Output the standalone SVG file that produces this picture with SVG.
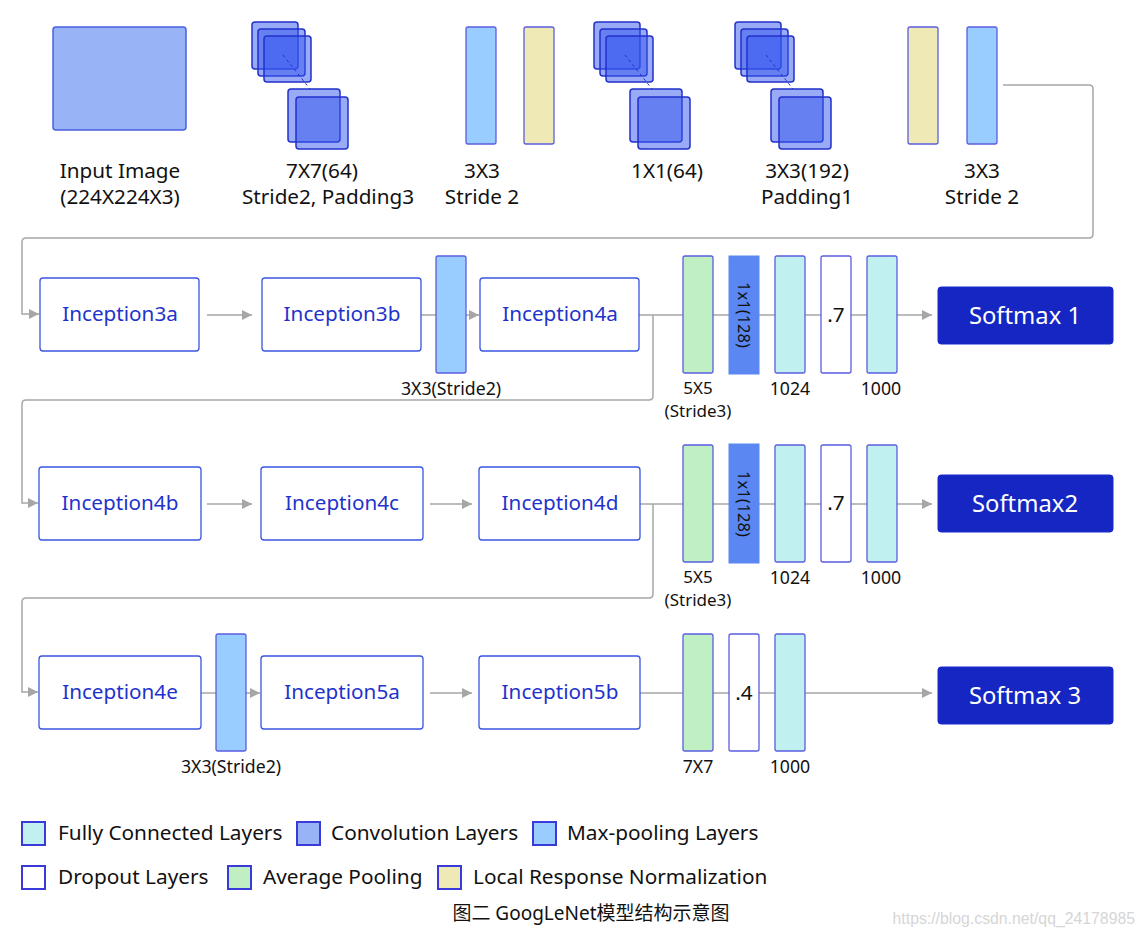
<svg xmlns="http://www.w3.org/2000/svg" xmlns:xlink="http://www.w3.org/1999/xlink" width="1144" height="937" viewBox="0 0 1144 937">
<style>
text{font-family:"Noto Sans","Open Sans","Liberation Sans",sans-serif;}
.lbl{font-size:20.7px;fill:#111;text-anchor:middle;}
.sm{font-size:17.7px;fill:#111;text-anchor:middle;}
.sm2{font-size:17px;fill:#111;text-anchor:middle;}
.rot{font-size:16.5px;fill:#111;text-anchor:middle;}
.leg{font-size:20.8px;fill:#111;}
.box{fill:#fff;stroke:#3a55e0;stroke-width:1.3;}
.itxt{font-size:20.7px;fill:#1f33cc;text-anchor:middle;}
.sbox{fill:#1526c2;stroke:#1a2ad0;stroke-width:1;}
.stxt{font-size:23.8px;fill:#fff;text-anchor:middle;}
.conn{stroke:#a6a6a6;stroke-width:1.5;fill:none;}
.pl{stroke:#5a5ee0;stroke-width:1.3;}
.mp{fill:#99ccff;}
.lrn{fill:#efe9b6;}
.avg{fill:#c1efc4;}
.fc{fill:#c0f0ef;}
.dr{fill:#fff;}
.cv{fill:#5b87f2;stroke:#5b87f2;}
.sq{fill:#3355ee;fill-opacity:0.5;stroke:#2230cc;stroke-width:1.5;}
.lg{stroke:#3a3ad8;stroke-width:2;}
</style>
<defs>
<marker id="ah" viewBox="0 0 10 10" refX="10" refY="5" markerWidth="10" markerHeight="10" markerUnits="userSpaceOnUse" orient="auto">
<path d="M0,0 L10,5 L0,10 z" fill="#a6a6a6"/>
</marker>
<g id="stack">
<rect class="sq" x="0" y="0" width="46" height="47" rx="3"/>
<rect class="sq" x="6" y="7" width="47" height="47" rx="3"/>
<rect class="sq" x="12" y="14" width="47" height="46" rx="3"/>
<rect class="sq" x="36" y="67" width="52" height="53" rx="3"/>
<rect class="sq" x="44" y="75" width="52" height="52" rx="3"/>
<line x1="31" y1="33" x2="58" y2="67" stroke="#2230cc" stroke-width="1" stroke-dasharray="3,3"/>
</g>
</defs>
<rect width="1144" height="937" fill="#fff"/>

<g id="connectors">
<path class="conn" d="M1003,85 H1089 Q1093,85 1093,89 V234 Q1093,238 1089,238 H26 Q22,238 22,242 V314 H39" marker-end="url(#ah)"/>
<line class="conn" x1="207" y1="315" x2="252" y2="315" marker-end="url(#ah)"/>
<line class="conn" x1="421" y1="315" x2="479" y2="315" marker-end="url(#ah)"/>
<line class="conn" x1="639" y1="315" x2="932" y2="315" marker-end="url(#ah)"/>
<path class="conn" d="M653,315 V396 Q653,400 649,400 H26 Q22,400 22,404 V503 H38" marker-end="url(#ah)"/>
<line class="conn" x1="207" y1="504" x2="252" y2="504" marker-end="url(#ah)"/>
<line class="conn" x1="430" y1="504" x2="472" y2="504" marker-end="url(#ah)"/>
<line class="conn" x1="640" y1="504" x2="932" y2="504" marker-end="url(#ah)"/>
<path class="conn" d="M653,504 V594 Q653,598 649,598 H26 Q22,598 22,602 V692 H38" marker-end="url(#ah)"/>
<line class="conn" x1="201" y1="693" x2="260" y2="693" marker-end="url(#ah)"/>
<line class="conn" x1="430" y1="693" x2="472" y2="693" marker-end="url(#ah)"/>
<line class="conn" x1="640" y1="693" x2="932" y2="693" marker-end="url(#ah)"/>
</g>

<g id="input-image">
<rect x="53" y="27" width="133" height="103" rx="3" fill="#99b3f7" stroke="#4a5fe0" stroke-width="1.5"/>
<text class="lbl" x="120" y="178">Input Image</text>
<text class="lbl" x="120" y="204">(224X224X3)</text>
</g>
<g id="conv7x7">
<use xlink:href="#stack" transform="translate(252,22)"/>
<text class="lbl" x="322" y="178">7X7(64)</text>
<text class="lbl" x="328" y="204">Stride2, Padding3</text>
</g>
<g id="maxpool1">
<rect class="pl mp" x="466" y="27" width="30" height="117" rx="2"/>
<text class="lbl" x="482" y="178">3X3</text>
<text class="lbl" x="482" y="204">Stride 2</text>
</g>
<g id="lrn1">
<rect class="pl lrn" x="524" y="27" width="30" height="117" rx="2"/>
</g>
<g id="conv1x1">
<use xlink:href="#stack" transform="translate(594,22)"/>
<text class="lbl" x="667" y="178">1X1(64)</text>
</g>
<g id="conv3x3">
<use xlink:href="#stack" transform="translate(735,22)"/>
<text class="lbl" x="807" y="178">3X3(192)</text>
<text class="lbl" x="807" y="204">Padding1</text>
</g>
<g id="lrn2">
<rect class="pl lrn" x="908" y="27" width="30" height="117" rx="2"/>
</g>
<g id="maxpool2">
<rect class="pl mp" x="967" y="27" width="30" height="117" rx="2"/>
<text class="lbl" x="982" y="178">3X3</text>
<text class="lbl" x="982" y="204">Stride 2</text>
</g>

<!-- Row 1 -->
<g id="inception3a"><rect class="box" x="40" y="278" width="159" height="73" rx="3"/><text class="itxt" x="120" y="321">Inception3a</text></g>
<g id="inception3b"><rect class="box" x="262" y="278" width="159" height="73" rx="3"/><text class="itxt" x="342" y="321">Inception3b</text></g>
<g id="maxpool3"><rect class="pl mp" x="436" y="256" width="30" height="117" rx="2"/><text class="sm" x="451" y="395">3X3(Stride2)</text></g>
<g id="inception4a"><rect class="box" x="480" y="278" width="159" height="73" rx="3"/><text class="itxt" x="560" y="321">Inception4a</text></g>
<g id="aux1-avg"><rect class="pl avg" x="683" y="256" width="30" height="117" rx="2"/><text class="sm2" x="698" y="394">5X5</text><text class="sm2" x="698" y="417">(Stride3)</text></g>
<g id="aux1-conv"><rect class="cv" x="729" y="256" width="30" height="118"/><text class="rot" transform="translate(738,315) rotate(90)" x="0" y="0">1x1(128)</text></g>
<g id="aux1-fc1"><rect class="pl fc" x="775" y="256" width="30" height="117" rx="2"/><text class="sm" x="790" y="395">1024</text></g>
<g id="aux1-drop"><rect class="pl dr" x="821" y="256" width="30" height="117" rx="2"/><text class="lbl" x="836" y="322">.7</text></g>
<g id="aux1-fc2"><rect class="pl fc" x="867" y="256" width="30" height="117" rx="2"/><text class="sm" x="881" y="395">1000</text></g>
<g id="softmax1"><rect class="sbox" x="938" y="287" width="175" height="57" rx="3"/><text class="stxt" x="1025" y="324">Softmax 1</text></g>

<!-- Row 2 -->
<g id="inception4b"><rect class="box" x="39" y="467" width="162" height="73" rx="3"/><text class="itxt" x="120" y="510">Inception4b</text></g>
<g id="inception4c"><rect class="box" x="261" y="467" width="162" height="73" rx="3"/><text class="itxt" x="342" y="510">Inception4c</text></g>
<g id="inception4d"><rect class="box" x="479" y="467" width="161" height="73" rx="3"/><text class="itxt" x="560" y="510">Inception4d</text></g>
<g id="aux2-avg"><rect class="pl avg" x="683" y="445" width="30" height="117" rx="2"/><text class="sm2" x="698" y="583">5X5</text><text class="sm2" x="698" y="606">(Stride3)</text></g>
<g id="aux2-conv"><rect class="cv" x="729" y="444" width="30" height="119"/><text class="rot" transform="translate(738,504) rotate(90)" x="0" y="0">1x1(128)</text></g>
<g id="aux2-fc1"><rect class="pl fc" x="775" y="445" width="30" height="117" rx="2"/><text class="sm" x="790" y="584">1024</text></g>
<g id="aux2-drop"><rect class="pl dr" x="821" y="445" width="30" height="117" rx="2"/><text class="lbl" x="836" y="510">.7</text></g>
<g id="aux2-fc2"><rect class="pl fc" x="867" y="445" width="30" height="117" rx="2"/><text class="sm" x="881" y="584">1000</text></g>
<g id="softmax2"><rect class="sbox" x="938" y="475" width="175" height="57" rx="3"/><text class="stxt" x="1025" y="512">Softmax2</text></g>

<!-- Row 3 -->
<g id="inception4e"><rect class="box" x="39" y="656" width="162" height="73" rx="3"/><text class="itxt" x="120" y="699">Inception4e</text></g>
<g id="maxpool4"><rect class="pl mp" x="216" y="634" width="30" height="117" rx="2"/><text class="sm" x="231" y="773">3X3(Stride2)</text></g>
<g id="inception5a"><rect class="box" x="261" y="656" width="162" height="73" rx="3"/><text class="itxt" x="342" y="699">Inception5a</text></g>
<g id="inception5b"><rect class="box" x="479" y="656" width="161" height="73" rx="3"/><text class="itxt" x="560" y="699">Inception5b</text></g>
<g id="final-avg"><rect class="pl avg" x="683" y="634" width="30" height="117" rx="2"/><text class="sm" x="698" y="773">7X7</text></g>
<g id="final-drop"><rect class="pl dr" x="729" y="634" width="30" height="117" rx="2"/><text class="lbl" x="744" y="700">.4</text></g>
<g id="final-fc"><rect class="pl fc" x="775" y="634" width="30" height="117" rx="2"/><text class="sm" x="790" y="773">1000</text></g>
<g id="softmax3"><rect class="sbox" x="938" y="667" width="175" height="57" rx="3"/><text class="stxt" x="1025" y="704">Softmax 3</text></g>

<!-- Legend -->
<g id="legend">
<rect class="lg fc" x="22" y="822" width="23" height="23"/><text class="leg" x="58" y="840">Fully Connected Layers</text>
<rect class="lg" fill="#99b3f7" x="297" y="822" width="23" height="23"/><text class="leg" x="331" y="840">Convolution Layers</text>
<rect class="lg mp" x="533" y="822" width="23" height="23"/><text class="leg" x="567" y="840">Max-pooling Layers</text>
<rect class="lg dr" x="22" y="866" width="23" height="23"/><text class="leg" x="58" y="884">Dropout Layers</text>
<rect class="lg avg" x="228" y="866" width="23" height="23"/><text class="leg" x="263" y="884">Average Pooling</text>
<rect class="lg lrn" x="438" y="866" width="23" height="23"/><text class="leg" x="473" y="884">Local Response Normalization</text>
</g>
<text x="591" y="920" font-size="19" fill="#111" text-anchor="middle" style="font-family:'Noto Sans','Noto Sans CJK SC',sans-serif">图二 GoogLeNet模型结构示意图</text>
<text x="1135" y="924" font-size="15.8" fill="#d6d6d6" text-anchor="end" style="font-family:'Liberation Sans',sans-serif">https://blog.csdn.net/qq_24178985</text>
</svg>
